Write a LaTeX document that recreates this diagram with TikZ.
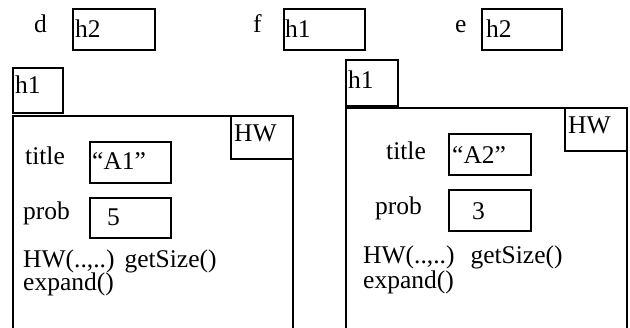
\documentclass[tikz,border=0pt]{standalone}
\usepackage{fontspec}
\setmainfont{Liberation Serif}
\tikzset{
  box/.style={draw, line width=1.5pt, rectangle, inner sep=0pt},
  lbl/.style={anchor=base west, inner sep=0pt, font=\fontsize{25.5}{24}\selectfont},
  frame/.style={draw, line width=1.5pt}
}
\begin{document}
\begin{tikzpicture}[x=1pt,y=-1pt]
\useasboundingbox (0,0) rectangle (630,328);
% top row
\node[lbl] (dl) at (34,33) {d};
\node[box, minimum width=82pt, minimum height=41pt] (dbox) at (114,29.5) {};
\node[lbl] (dv) at (75,38) {h2};
\node[lbl] (fl) at (253,33) {f};
\node[box, minimum width=81pt, minimum height=41pt] (fbox) at (324.5,29.5) {};
\node[lbl] (fv) at (285,38) {h1};
\node[lbl] (el) at (455,33) {e};
\node[box, minimum width=80pt, minimum height=41pt] (ebox) at (522,29.5) {};
\node[lbl] (ev) at (486,38) {h2};
% left object
\node[box, minimum width=50pt, minimum height=45pt] (ltab) at (38,90.5) {};
\node[lbl] (ltabt) at (15,94) {h1};
\draw[frame] (13,328) |- (293,116) -- (293,328);
\node[box, minimum width=62pt, minimum height=43pt] (lhw) at (262,137.5) {};
\node[lbl] (lhwt) at (234,142) {HW};
\node[lbl] (ltitle) at (25,165) {title};
\node[box, minimum width=81pt, minimum height=41pt] (la1) at (130.5,162.5) {};
\node[lbl] (la1t) at (92,170) {``A1''};
\node[lbl] (lprob) at (23,220) {prob};
\node[box, minimum width=81pt, minimum height=40pt] (l5) at (130.5,218) {};
\node[lbl] (l5t) at (107,226) {5};
\node[lbl] (lm1) at (23,268) {HW(..,..)\hspace{10pt}getSize()};
\node[lbl] (lm2) at (23,291) {expand()};
% right object
\node[box, minimum width=52pt, minimum height=46pt] (rtab) at (372,83) {};
\node[lbl] (rtabt) at (348,89) {h1};
\draw[frame] (346,328) |- (627,108) -- (627,328);
\node[box, minimum width=62pt, minimum height=43pt] (rhw) at (596,129.5) {};
\node[lbl] (rhwt) at (568,134) {HW};
\node[lbl] (rtitle) at (386,160) {title};
\node[box, minimum width=82pt, minimum height=41pt] (ra2) at (490,154.5) {};
\node[lbl] (ra2t) at (452,164) {``A2''};
\node[lbl] (rprob) at (375,215) {prob};
\node[box, minimum width=82pt, minimum height=41pt] (r3) at (490,210.5) {};
\node[lbl] (r3t) at (472,220) {3};
\node[lbl] (rm1) at (363,264) {HW(..,..)\hspace{16pt}getSize()};
\node[lbl] (rm2) at (363,289) {expand()};
\end{tikzpicture}
\end{document}
